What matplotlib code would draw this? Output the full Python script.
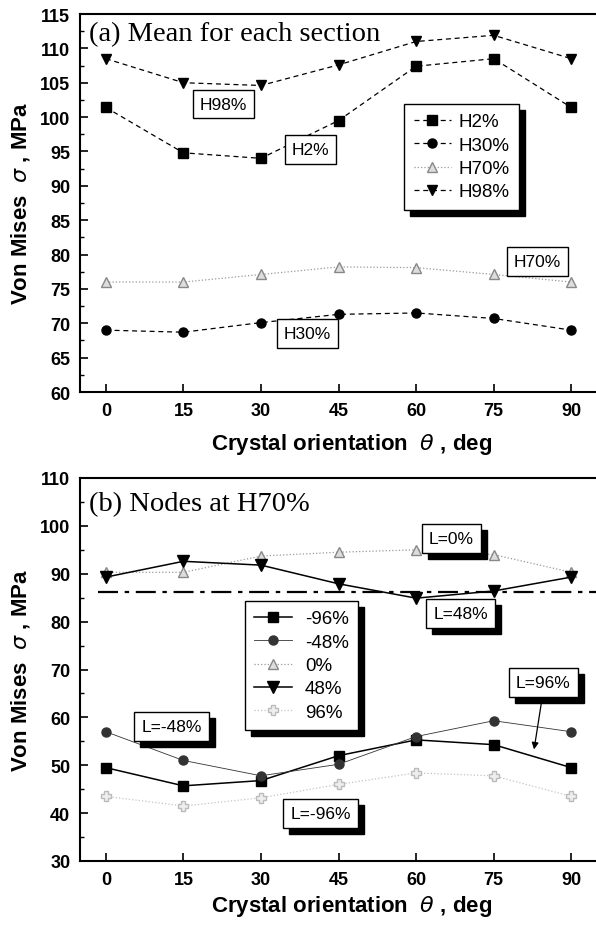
import numpy as np
import matplotlib
matplotlib.use('Agg')
import matplotlib.pyplot as plt
from matplotlib.patches import Rectangle
from matplotlib.transforms import offset_copy

# crystal orientation, deg
theta = [0, 15, 30, 45, 60, 75, 90]

# (a) mean for each section
h2 = [101.4, 94.8, 94.0, 99.5, 107.4, 108.5, 101.4]
h30 = [69.0, 68.7, 70.1, 71.3, 71.5, 70.7, 69.0]
h70 = [76.0, 76.0, 77.1, 78.2, 78.1, 77.1, 76.0]
h98 = [108.5, 105.0, 104.6, 107.6, 111.0, 111.9, 108.5]

# (b) nodes at H70%
l_m96 = [49.5, 45.7, 46.8, 52.0, 55.3, 54.3, 49.5]
l_m48 = [57.0, 51.0, 47.8, 50.2, 56.0, 59.3, 57.0]
l_0 = [90.3, 90.3, 93.7, 94.5, 95.0, 94.0, 90.3]
l_48 = [89.3, 92.6, 91.8, 87.9, 84.9, 86.4, 89.3]
l_96 = [43.5, 41.5, 43.2, 46.0, 48.4, 47.8, 43.5]
ref_level = 86.2

SANS = ['Liberation Sans', 'DejaVu Sans']
SERIF = ['Liberation Serif', 'DejaVu Serif']


def style_axes(ax, ylim, ymajor, yminor, xlabelpad):
    '''
    Common axis look: inward ticks, right spine falls outside the picture.
    '''
    ax.set_xlim(-5, 100)
    ax.set_ylim(*ylim)
    ax.set_xticks(theta)
    ax.set_yticks(np.arange(ylim[0], ylim[1] + 0.1, ymajor))
    ax.set_yticks(np.arange(ylim[0], ylim[1] + 0.1, yminor), minor=True)
    ax.tick_params(direction='in', length=6, width=1.2, labelsize=13, pad=7)
    ax.tick_params(which='minor', direction='in', length=3, width=1.0)
    for lab in ax.get_xticklabels() + ax.get_yticklabels():
        lab.set_family(SANS)
        lab.set_fontweight('bold')
    for sp in ax.spines.values():
        sp.set_linewidth(1.5)
    ax.set_xlabel(r'Crystal orientation  $\theta$ , deg', family=SANS,
                  fontsize=16, fontweight='bold', labelpad=xlabelpad)
    ax.set_ylabel(r'Von Mises  $\sigma$ , MPa', family=SANS,
                  fontsize=16, fontweight='bold', labelpad=6)


def box_label(ax, x, y, s, shadow=True):
    '''
    Boxed text label, optionally with black drop shadow.
    '''
    kw = dict(ha='center', va='center', fontsize=12.5, family=SANS, zorder=6)
    if shadow:
        tr = offset_copy(ax.transData, fig=ax.figure, x=6, y=-6, units='dots')
        ax.text(x, y, s, transform=tr, color='black',
                bbox=dict(boxstyle='square,pad=0.4', fc='black', ec='black'), **kw)
    ax.text(x, y, s, color='black',
            bbox=dict(boxstyle='square,pad=0.4', fc='white', ec='black', lw=1.0), **kw)


def legend_shadow(ax, leg, dx=6, dy=6):
    fig = ax.figure
    fig.canvas.draw()
    bb = leg.get_window_extent()
    inv = ax.transAxes.inverted()
    (x0, y0), (x1, y1) = inv.transform([[bb.x0 + dx, bb.y0 - dy], [bb.x1 + dx, bb.y1 - dy]])
    ax.add_patch(Rectangle((x0, y0), x1 - x0, y1 - y0, transform=ax.transAxes,
                           fc='black', ec='black', zorder=4.5, clip_on=False))


fig = plt.figure(figsize=(5.96, 9.29), dpi=100)
ax1 = fig.add_axes([80 / 596, 1 - 393 / 929, 543 / 596, 378 / 929])
ax2 = fig.add_axes([80 / 596, 1 - 862 / 929, 543 / 596, 383 / 929])

# ---- panel (a)
ms = 6.5
ax1.plot(theta, h2, ls=(0, (4, 3)), color='black', lw=0.9, marker='s', ms=ms, label='H2%')
ax1.plot(theta, h30, ls=(0, (4, 3)), color='black', lw=0.9, marker='o', ms=ms, label='H30%')
ax1.plot(theta, h70, ls=':', color='#999999', lw=0.9, marker='^', ms=ms,
         mfc='#dddddd', mec='#888888', label='H70%')
ax1.plot(theta, h98, ls=(0, (4, 3)), color='black', lw=0.9, marker='v', ms=ms + 1, label='H98%')
style_axes(ax1, (60, 115), 5, 2.5, 9)
ax1.text(-3.3, 112.2, '(a) Mean for each section', family=SERIF, fontsize=20.5, va='center')

box_label(ax1, 22.8, 101.9, 'H98%', shadow=False)
box_label(ax1, 39.6, 95.3, 'H2%', shadow=False)
box_label(ax1, 83.5, 79.0, 'H70%', shadow=False)
box_label(ax1, 39.0, 68.5, 'H30%', shadow=False)

leg1 = ax1.legend(loc='upper left', bbox_to_anchor=(0.597, 0.762), borderaxespad=0,
                  frameon=True, fancybox=False, framealpha=1, edgecolor='black',
                  prop={'family': SANS, 'size': 13.5}, handlelength=2.0,
                  labelspacing=0.33, handletextpad=0.4, borderpad=0.5)
leg1.get_frame().set_linewidth(1.0)
leg1.set_zorder(5)

# ---- panel (b)
ax2.axhline(ref_level, xmin=(-1.5 + 5) / 105, xmax=1, color='black', lw=1.6,
            ls=(0, (9, 3, 2, 3)), zorder=1)
ax2.plot(theta, l_m96, ls='-', color='black', lw=1.1, marker='s', ms=ms, label='-96%')
ax2.plot(theta, l_m48, ls='-', color='#333333', lw=0.6, marker='o', ms=ms, label='-48%')
ax2.plot(theta, l_0, ls=':', color='#999999', lw=0.9, marker='^', ms=ms,
         mfc='#dddddd', mec='#888888', label='0%')
ax2.plot(theta, l_48, ls='-', color='black', lw=1.1, marker='v', ms=ms + 2, label='48%')
ax2.plot(theta, l_96, ls=':', color='#c4c4c4', lw=0.9, marker='P', ms=ms,
         mfc='#eeeeee', mec='#bbbbbb', label='96%')
style_axes(ax2, (30, 110), 10, 5, 4)
ax2.text(-3.3, 104.6, '(b) Nodes at H70%', family=SERIF, fontsize=20.5, va='center')

box_label(ax2, 66.8, 97.3, 'L=0%')
box_label(ax2, 68.6, 81.7, 'L=48%')
box_label(ax2, 84.6, 67.2, 'L=96%')
box_label(ax2, 12.7, 58.1, 'L=-48%')
box_label(ax2, 41.5, 39.9, 'L=-96%')
ax2.annotate('', xy=(82.8, 53.3), xytext=(84.4, 64.3),
             arrowprops=dict(arrowstyle='-|>', color='black', lw=0.9,
                             mutation_scale=10, shrinkA=0, shrinkB=0))

leg2 = ax2.legend(loc='upper left', bbox_to_anchor=(0.304, 0.679), borderaxespad=0,
                  frameon=True, fancybox=False, framealpha=1, edgecolor='black',
                  prop={'family': SANS, 'size': 13.5}, handlelength=2.0,
                  labelspacing=0.33, handletextpad=0.7, borderpad=0.5)
leg2.get_frame().set_linewidth(1.0)
leg2.set_zorder(5)

legend_shadow(ax1, leg1)
legend_shadow(ax2, leg2)

fig.savefig('out.png', dpi=100)
